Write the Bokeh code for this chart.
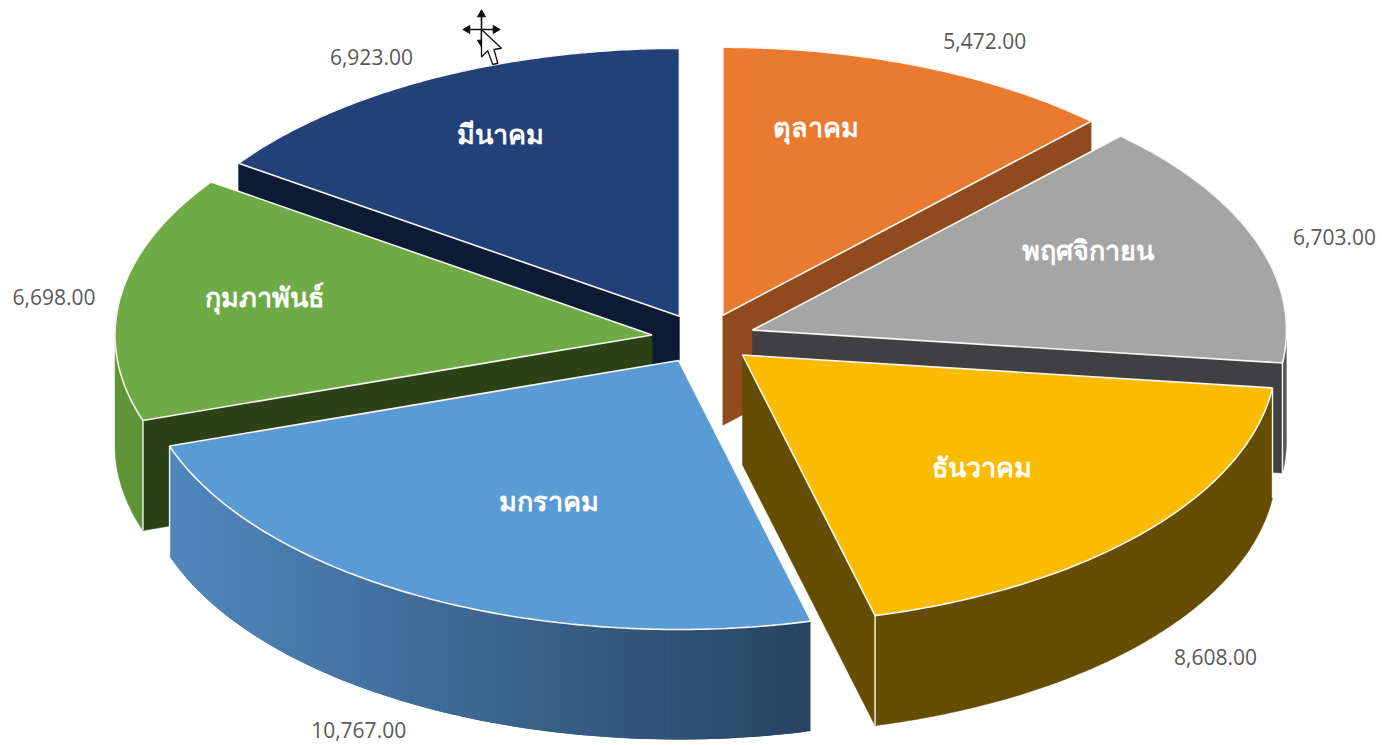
import numpy as np
from bokeh.plotting import figure
from bokeh.models import Range1d
from bokeh.core.properties import value
from bokeh.embed import file_html
from bokeh.resources import INLINE

# ---- data (clockwise from 12 o'clock) ----
months = ["ตุลาคม", "พฤศจิกายน", "ธันวาคม", "มกราคม", "กุมภาพันธ์", "มีนาคม"]
values = [5472.0, 6703.0, 8608.0, 10767.0, 6698.0, 6923.0]

# ---- styles ----
top_colors = ["#ea7a2f", "#a5a5a5", "#fbbc00", "#5b9bd5", "#6eab46", "#224179"]
wall_colors = ["#8f4a1d", "#55575c", "#654d00", None, "#5f9438", "#0c1a36"]
face_colors = ["#8f4a1d", "#404042", "#654d00", None, "#2c4216", "#0c1a36"]
face_end = [1, 1, 1, None, 0, 0]      # which cut edge of each slice faces the viewer
wall_left, wall_right = np.array([0x50, 0x88, 0xBE]), np.array([0x27, 0x44, 0x62])
edge = "#f8f6ef"

# ---- projection ----
CX, CY, RX, RY, EX, EY, DEPTH = 703.0, 338.0, 534.0, 268.0, 52.0, 25.0, 110.0
RX_LEFT, RY_FRONT = 537.0, 269.0

# label anchors relative to each slice's apex, in page pixels
name_offsets = [(93, -189), (336, -81), (239, 111), (-130, 140), (-388, -38), (-179, -183)]
value_offsets = [(262, -274), (582, -93), (473, 302), (-320, 370), (-598, -38), (-308, -259)]

p = figure(width=1382, height=745, output_backend="svg", toolbar_location=None,
           x_range=Range1d(0, 1382), y_range=Range1d(745, 0),
           min_border=0, outline_line_color=None, background_fill_color="white")
p.axis.visible = False
p.grid.visible = False

shares = np.array(values) / sum(values) * 2 * np.pi
ends = np.cumsum(shares)
starts = ends - shares


def poly(xs, ys, fill, line=None, lw=0):
    p.patch(list(xs), list(ys), fill_color=fill, line_color=line or fill, line_width=lw if line else 0.5)


def project(ax, ay, t):
    s, c = np.sin(t), np.cos(t)
    return ax + np.where(s < 0, RX_LEFT, RX) * s, ay - np.where(c < 0, RY_FRONT, RY) * c


apex = {}
for i in range(6):
    b = (starts[i] + ends[i]) / 2
    apex[i] = (CX + EX * np.sin(b), CY - EY * np.cos(b))

for i in [0, 5, 1, 4, 2, 3]:  # back to front
    ax, ay = apex[i]
    a0, a1 = starts[i], ends[i]
    t = np.linspace(a0, a1, 120)
    xr, yr = project(ax, ay, t)

    # cut face towards the viewer
    if face_end[i] is not None:
        ang = a1 if face_end[i] else a0
        ex, ey = project(ax, ay, ang)
        poly([ax, ex, ex, ax], [ay, ey, ey + DEPTH, ay + DEPTH], face_colors[i])

    # outer wall: only the front half of the rim is visible
    mask = np.cos(t) < 0.02
    if mask.sum() > 1:
        xm, ym = xr[mask], yr[mask]
        if wall_colors[i] is None:
            lo, hi = xm.min(), xm.max()
            for k in range(len(xm) - 1):
                k2 = min(k + 2, len(xm) - 1)
                f = ((xm[k] + xm[k + 1]) / 2 - lo) / (hi - lo)
                c = wall_left + (wall_right - wall_left) * f
                col = "#%02x%02x%02x" % tuple(int(v) for v in c)
                p.patch([xm[k], xm[k2], xm[k2], xm[k]],
                        [ym[k], ym[k2], ym[k2] + DEPTH, ym[k] + DEPTH],
                        fill_color=col, line_color=None)
        else:
            poly(list(xm) + list(xm[::-1]), list(ym) + list(ym[::-1] + DEPTH), wall_colors[i])

    # vertical highlights at the slice's corners
    for ang in (a0, a1):
        ex, ey = project(ax, ay, ang)
        if np.cos(ang) < 0.02:
            p.line([ex, ex], [ey, ey + DEPTH], line_color=edge, line_width=1.4)

    # top surface
    poly([ax] + list(xr), [ay] + list(yr), top_colors[i], edge, 1.6)

# ---- labels ----
for i in range(6):
    ax, ay = apex[i]
    dx, dy = name_offsets[i]
    p.text([ax + dx], [ay + dy], text=[months[i]], text_color="white", text_align="center",
           text_baseline="middle", text_font=value("Noto Sans"), text_font_style="bold", text_font_size="27px")
    dx, dy = value_offsets[i]
    p.text([ax + dx], [ay + dy], text=[f"{values[i]:,.2f}"], text_color="#595959", text_align="center",
           text_baseline="middle", text_font=value("Open Sans"), text_font_size="21px")

# ---- mouse pointer captured in the screenshot ----
mx, my = 481.0, 29.0
p.line([mx - 12, mx + 12], [my, my], line_color="#111111", line_width=1.6)
p.line([mx, mx], [my - 13, my + 12], line_color="#111111", line_width=1.6)
for (sx, sy, ang) in [(mx, my - 15, 0), (mx, my + 13, np.pi), (mx - 14, my, np.pi / 2), (mx + 14, my, -np.pi / 2)]:
    p.scatter([sx], [sy], marker="triangle", size=8, angle=[ang], fill_color="#111111", line_color="#111111")
cx0 = np.array([0, 0, 5, 9, 13, 10, 16]) * 1.25 + mx
cy0 = np.array([0, 22, 17, 28, 27, 16, 15]) * 1.25 + my
p.patch(list(cx0), list(cy0), fill_color="white", line_color="#111111", line_width=1.3)

open("out.html", "w").write(file_html(p, INLINE))
